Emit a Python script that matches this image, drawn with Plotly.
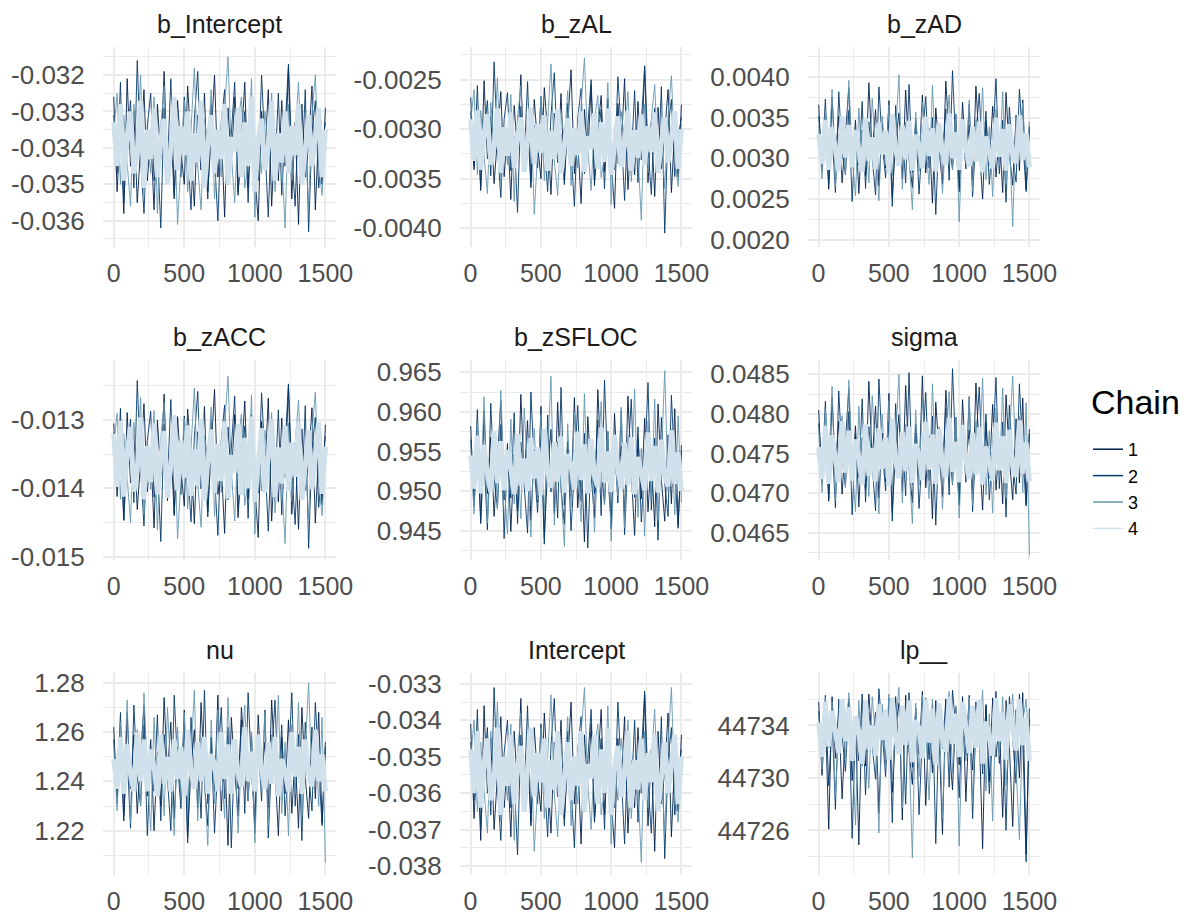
import numpy as np
import plotly.graph_objects as go

W, H = 1195, 918          # browser window
OFF = 8                   # page body margin
FW, FH = W - OFF, H - OFF  # figure reaches the window's right/bottom edge
N_ITER = 1500

params = ["b_Intercept", "b_zAL", "b_zAD", "b_zACC", "b_zSFLOC", "sigma", "nu", "Intercept", "lp__"]
chains = ["1", "2", "3", "4"]

def parse(s):
    return [float(v) for v in s.split()]

# thinned draws, one list per chain
b_Intercept = [parse(s) for s in [
"-.0326 -.0352 -.0334 -.0358 -.0321 -.0345 -.0330 -.0355 -.0340 -.0324 -.0349 -.0336 -.0357 -.0328 -.0343 -.0319 -.0347 -.0333 -.0354 -.0327 -.0341 -.0350 -.0323 -.0338 -.0356 -.0331 -.0346 -.0325 -.0352 -.0337 -.0320 -.0348 -.0335 -.0359 -.0329 -.0344 -.0326 -.0353 -.0339 -.0322 -.0351 -.0332 -.0347 -.0360 -.0330 -.0342 -.0324 -.0356 -.0336 -.0349 -.0327 -.0345 -.0318 -.0354 -.0333 -.0361 -.0328 -.0348 -.0339 -.0323 -.0357 -.0335 -.0350 -.0329",
"-.0331 -.0347 -.0322 -.0355 -.0338 -.0327 -.0351 -.0316 -.0343 -.0358 -.0334 -.0325 -.0349 -.0340 -.0362 -.0329 -.0345 -.0321 -.0353 -.0336 -.0348 -.0326 -.0341 -.0357 -.0332 -.0319 -.0346 -.0339 -.0354 -.0328 -.0343 -.0360 -.0333 -.0324 -.0350 -.0337 -.0322 -.0352 -.0340 -.0330 -.0355 -.0327 -.0344 -.0349 -.0320 -.0338 -.0359 -.0331 -.0346 -.0325 -.0353 -.0335 -.0317 -.0342 -.0356 -.0330 -.0348 -.0324 -.0363 -.0336 -.0327 -.0351 -.0340 -.0333",
"-.0336 -.0325 -.0350 -.0331 -.0344 -.0356 -.0328 -.0341 -.0320 -.0353 -.0337 -.0347 -.0326 -.0358 -.0334 -.0323 -.0349 -.0339 -.0330 -.0361 -.0343 -.0327 -.0352 -.0335 -.0318 -.0345 -.0357 -.0332 -.0340 -.0324 -.0354 -.0338 -.0348 -.0329 -.0315 -.0342 -.0355 -.0333 -.0326 -.0351 -.0344 -.0321 -.0359 -.0336 -.0347 -.0330 -.0340 -.0325 -.0352 -.0337 -.0343 -.0362 -.0328 -.0349 -.0334 -.0322 -.0346 -.0339 -.0356 -.0331 -.0320 -.0345 -.0353 -.0336",
"-.0333 -.0345 -.0328 -.0349 -.0337 -.0330 -.0347 -.0341 -.0327 -.0351 -.0335 -.0343 -.0329 -.0348 -.0338 -.0332 -.0350 -.0340 -.0326 -.0346 -.0334 -.0342 -.0330 -.0349 -.0336 -.0344 -.0327 -.0351 -.0339 -.0331 -.0347 -.0335 -.0343 -.0328 -.0350 -.0337 -.0341 -.0329 -.0348 -.0333 -.0345 -.0326 -.0352 -.0338 -.0332 -.0346 -.0340 -.0327 -.0349 -.0336 -.0344 -.0330 -.0347 -.0334 -.0342 -.0328 -.0350 -.0339 -.0331 -.0345 -.0337 -.0329 -.0348 -.0335",
]]

b_zAL = [parse(s) for s in [
"-.00268 -.00341 -.00295 -.00362 -.00251 -.00330 -.00287 -.00355 -.00309 -.00262 -.00348 -.00300 -.00371 -.00276 -.00322 -.00245 -.00338 -.00292 -.00359 -.00270 -.00316 -.00350 -.00258 -.00304 -.00366 -.00284 -.00333 -.00264 -.00352 -.00297 -.00240 -.00345 -.00311 -.00375 -.00280 -.00327 -.00255 -.00357 -.00301 -.00266 -.00343 -.00289 -.00336 -.00380 -.00274 -.00320 -.00249 -.00361 -.00306 -.00346 -.00272 -.00331 -.00236 -.00354 -.00293 -.00368 -.00278 -.00340 -.00303 -.00260 -.00364 -.00298 -.00349 -.00275",
"-.00282 -.00337 -.00256 -.00358 -.00303 -.00271 -.00347 -.00232 -.00318 -.00369 -.00290 -.00263 -.00342 -.00307 -.00384 -.00277 -.00329 -.00252 -.00353 -.00296 -.00339 -.00267 -.00313 -.00363 -.00286 -.00243 -.00334 -.00305 -.00356 -.00274 -.00321 -.00378 -.00289 -.00259 -.00345 -.00299 -.00250 -.00351 -.00310 -.00280 -.00360 -.00269 -.00325 -.00341 -.00247 -.00302 -.00372 -.00285 -.00332 -.00261 -.00354 -.00294 -.00238 -.00319 -.00366 -.00279 -.00344 -.00257 -.00405 -.00297 -.00270 -.00348 -.00308 -.00288",
"-.00292 -.00260 -.00346 -.00281 -.00326 -.00365 -.00273 -.00314 -.00248 -.00355 -.00298 -.00336 -.00265 -.00373 -.00288 -.00256 -.00343 -.00306 -.00279 -.00386 -.00323 -.00268 -.00352 -.00295 -.00234 -.00331 -.00367 -.00284 -.00310 -.00261 -.00357 -.00300 -.00339 -.00277 -.00228 -.00318 -.00362 -.00290 -.00266 -.00349 -.00327 -.00253 -.00376 -.00296 -.00335 -.00282 -.00312 -.00262 -.00353 -.00301 -.00324 -.00392 -.00275 -.00344 -.00289 -.00255 -.00333 -.00305 -.00360 -.00286 -.00246 -.00329 -.00358 -.00294",
"-.00290 -.00332 -.00281 -.00341 -.00305 -.00285 -.00336 -.00318 -.00279 -.00344 -.00298 -.00327 -.00283 -.00339 -.00309 -.00288 -.00343 -.00314 -.00278 -.00335 -.00295 -.00324 -.00286 -.00342 -.00302 -.00330 -.00280 -.00345 -.00311 -.00289 -.00337 -.00299 -.00326 -.00282 -.00343 -.00307 -.00320 -.00284 -.00340 -.00293 -.00333 -.00279 -.00346 -.00312 -.00287 -.00338 -.00316 -.00281 -.00342 -.00301 -.00329 -.00285 -.00336 -.00297 -.00323 -.00283 -.00344 -.00313 -.00288 -.00334 -.00306 -.00282 -.00340 -.00300",
]]

b_zAD = [parse(s) for s in [
".00366 .00284 .00341 .00262 .00375 .00298 .00352 .00270 .00329 .00387 .00290 .00347 .00257 .00335 .00278 .00393 .00305 .00360 .00266 .00343 .00288 .00371 .00252 .00321 .00356 .00275 .00384 .00301 .00264 .00349 .00295 .00378 .00282 .00337 .00245 .00362 .00310 .00268 .00395 .00326 .00286 .00354 .00259 .00369 .00300 .00341 .00272 .00389 .00315 .00250 .00346 .00292 .00364 .00277 .00332 .00258 .00381 .00304 .00267 .00353 .00285 .00372 .00262 .00339",
".00352 .00295 .00373 .00268 .00331 .00258 .00382 .00307 .00280 .00359 .00247 .00336 .00292 .00370 .00263 .00345 .00301 .00255 .00388 .00318 .00276 .00349 .00241 .00365 .00299 .00334 .00270 .00391 .00283 .00342 .00256 .00325 .00376 .00288 .00350 .00231 .00338 .00297 .00361 .00273 .00408 .00312 .00264 .00344 .00287 .00367 .00253 .00329 .00380 .00294 .00358 .00268 .00322 .00398 .00281 .00347 .00246 .00363 .00302 .00271 .00385 .00316 .00259 .00340",
".00340 .00275 .00358 .00299 .00385 .00265 .00327 .00349 .00281 .00396 .00303 .00254 .00362 .00289 .00337 .00270 .00374 .00310 .00248 .00352 .00292 .00366 .00279 .00333 .00403 .00262 .00345 .00301 .00237 .00357 .00284 .00369 .00316 .00268 .00390 .00296 .00343 .00257 .00328 .00378 .00286 .00355 .00222 .00336 .00294 .00372 .00260 .00348 .00308 .00387 .00274 .00339 .00253 .00361 .00291 .00382 .00269 .00330 .00216 .00351 .00298 .00368 .00283 .00345",
".00330 .00293 .00347 .00286 .00338 .00309 .00284 .00352 .00301 .00341 .00289 .00335 .00313 .00283 .00349 .00297 .00326 .00287 .00344 .00305 .00334 .00282 .00354 .00311 .00291 .00340 .00299 .00346 .00285 .00329 .00316 .00288 .00351 .00303 .00337 .00284 .00343 .00307 .00292 .00355 .00300 .00332 .00286 .00348 .00314 .00290 .00339 .00296 .00345 .00283 .00327 .00310 .00288 .00350 .00302 .00336 .00285 .00342 .00306 .00294 .00353 .00298 .00331 .00289",
]]

b_zACC = [parse(s) for s in [
"-.01305 -.01412 -.01338 -.01447 -.01289 -.01392 -.01322 -.01431 -.01360 -.01276 -.01405 -.01343 -.01458 -.01300 -.01381 -.01262 -.01418 -.01331 -.01440 -.01295 -.01372 -.01426 -.01284 -.01352 -.01452 -.01317 -.01398 -.01280 -.01435 -.01346 -.01255 -.01409 -.01364 -.01466 -.01310 -.01387 -.01292 -.01443 -.01355 -.01272 -.01415 -.01326 -.01395 -.01472 -.01302 -.01377 -.01268 -.01448 -.01349 -.01420 -.01297 -.01384 -.01250 -.01438 -.01334 -.01460 -.01313 -.01403 -.01358 -.01282 -.01451 -.01341 -.01424 -.01307",
"-.01318 -.01398 -.01283 -.01446 -.01352 -.01299 -.01421 -.01242 -.01371 -.01455 -.01330 -.01287 -.01413 -.01359 -.01478 -.01306 -.01390 -.01270 -.01437 -.01344 -.01409 -.01294 -.01366 -.01449 -.01325 -.01258 -.01401 -.01351 -.01442 -.01301 -.01383 -.01469 -.01329 -.01278 -.01417 -.01347 -.01265 -.01433 -.01362 -.01309 -.01444 -.01292 -.01388 -.01407 -.01260 -.01356 -.01463 -.01321 -.01396 -.01285 -.01439 -.01340 -.01247 -.01376 -.01453 -.01312 -.01414 -.01279 -.01488 -.01345 -.01296 -.01428 -.01367 -.01324",
"-.01337 -.01290 -.01416 -.01320 -.01385 -.01450 -.01303 -.01369 -.01267 -.01438 -.01348 -.01402 -.01286 -.01461 -.01327 -.01274 -.01411 -.01356 -.01311 -.01474 -.01380 -.01298 -.01430 -.01339 -.01253 -.01393 -.01457 -.01323 -.01363 -.01281 -.01441 -.01350 -.01406 -.01308 -.01236 -.01375 -.01448 -.01333 -.01291 -.01425 -.01389 -.01263 -.01467 -.01342 -.01404 -.01315 -.01368 -.01289 -.01436 -.01353 -.01386 -.01481 -.01304 -.01419 -.01335 -.01271 -.01397 -.01357 -.01445 -.01319 -.01259 -.01391 -.01440 -.01346",
"-.01320 -.01398 -.01301 -.01412 -.01349 -.01310 -.01405 -.01372 -.01296 -.01416 -.01338 -.01391 -.01305 -.01409 -.01356 -.01316 -.01414 -.01365 -.01293 -.01403 -.01330 -.01385 -.01308 -.01411 -.01343 -.01396 -.01298 -.01418 -.01361 -.01314 -.01407 -.01335 -.01389 -.01302 -.01415 -.01351 -.01377 -.01306 -.01410 -.01326 -.01400 -.01295 -.01420 -.01366 -.01312 -.01406 -.01358 -.01299 -.01413 -.01340 -.01393 -.01309 -.01404 -.01333 -.01383 -.01304 -.01417 -.01363 -.01315 -.01401 -.01347 -.01303 -.01408 -.01339",
]]

b_zSFLOC = [parse(s) for s in [
".9582 .9481 .9555 .9459 .9601 .9497 .9568 .9468 .9540 .9615 .9489 .9560 .9449 .9547 .9475 .9622 .9512 .9589 .9463 .9553 .9486 .9607 .9441 .9528 .9578 .9472 .9612 .9504 .9458 .9563 .9493 .9618 .9479 .9549 .9436 .9594 .9521 .9466 .9628 .9534 .9483 .9575 .9452 .9598 .9508 .9557 .9470 .9620 .9525 .9444 .9566 .9490 .9592 .9474 .9544 .9455 .9610 .9515 .9462 .9571 .9484 .9604 .9457 .9551",
".9565 .9495 .9603 .9464 .9543 .9451 .9611 .9516 .9478 .9584 .9440 .9551 .9491 .9599 .9459 .9562 .9506 .9447 .9625 .9530 .9473 .9570 .9433 .9596 .9499 .9548 .9466 .9631 .9482 .9559 .9450 .9536 .9608 .9487 .9573 .9428 .9553 .9497 .9590 .9469 .9640 .9522 .9456 .9564 .9485 .9602 .9445 .9541 .9616 .9492 .9581 .9461 .9532 .9637 .9476 .9567 .9438 .9593 .9509 .9468 .9621 .9526 .9453 .9558",
".9557 .9471 .9586 .9501 .9619 .9460 .9539 .9574 .9477 .9627 .9510 .9446 .9591 .9484 .9552 .9465 .9605 .9518 .9442 .9579 .9489 .9597 .9474 .9546 .9645 .9457 .9563 .9503 .9430 .9585 .9480 .9600 .9527 .9461 .9623 .9496 .9561 .9448 .9537 .9613 .9483 .9576 .9437 .9550 .9494 .9606 .9454 .9569 .9512 .9629 .9467 .9554 .9443 .9588 .9490 .9616 .9463 .9542 .9652 .9501 .9578 .9470 .9595 .9486",
".9545 .9503 .9570 .9497 .9558 .9521 .9499 .9576 .9510 .9563 .9501 .9552 .9529 .9496 .9572 .9507 .9541 .9500 .9567 .9516 .9555 .9495 .9579 .9524 .9504 .9562 .9512 .9569 .9498 .9547 .9533 .9502 .9575 .9514 .9559 .9497 .9566 .9519 .9505 .9580 .9511 .9550 .9499 .9571 .9527 .9503 .9561 .9508 .9568 .9496 .9543 .9522 .9501 .9574 .9513 .9557 .9498 .9565 .9518 .9506 .9577 .9509 .9549 .9500",
]]

sigma = [parse(s) for s in [
".04805 .04712 .04778 .04690 .04821 .04728 .04791 .04699 .04764 .04832 .04718 .04785 .04683 .04770 .04705 .04841 .04741 .04810 .04694 .04776 .04715 .04826 .04676 .04755 .04799 .04702 .04836 .04734 .04688 .04787 .04721 .04848 .04707 .04773 .04668 .04815 .04750 .04696 .04830 .04760 .04711 .04796 .04685 .04818 .04737 .04780 .04700 .04839 .04752 .04679 .04789 .04719 .04812 .04704 .04768 .04687 .04824 .04744 .04692 .04794 .04713 .04820 .04686 .04775",
".04788 .04724 .04816 .04693 .04767 .04682 .04829 .04745 .04708 .04803 .04673 .04774 .04720 .04819 .04689 .04784 .04735 .04678 .04844 .04756 .04703 .04792 .04665 .04813 .04727 .04771 .04697 .04852 .04711 .04782 .04681 .04760 .04827 .04716 .04797 .04660 .04777 .04726 .04808 .04698 .04857 .04748 .04687 .04786 .04714 .04822 .04677 .04765 .04834 .04722 .04800 .04692 .04758 .04846 .04706 .04790 .04670 .04811 .04738 .04699 .04838 .04751 .04684 .04781",
".04781 .04701 .04806 .04731 .04835 .04691 .04763 .04798 .04707 .04843 .04739 .04677 .04810 .04714 .04776 .04696 .04823 .04746 .04674 .04800 .04719 .04817 .04704 .04770 .04850 .04688 .04787 .04733 .04662 .04805 .04710 .04819 .04753 .04693 .04838 .04725 .04784 .04680 .04761 .04828 .04712 .04796 .04669 .04774 .04723 .04821 .04685 .04791 .04740 .04845 .04698 .04779 .04675 .04807 .04720 .04833 .04694 .04766 .04848 .04729 .04797 .04701 .04814 .04622",
".04758 .04718 .04785 .04712 .04773 .04737 .04714 .04791 .04726 .04779 .04716 .04768 .04745 .04711 .04787 .04722 .04757 .04715 .04782 .04731 .04770 .04710 .04794 .04740 .04719 .04777 .04728 .04784 .04713 .04762 .04749 .04717 .04790 .04730 .04774 .04712 .04781 .04735 .04720 .04795 .04727 .04765 .04714 .04786 .04743 .04718 .04776 .04724 .04783 .04711 .04759 .04738 .04716 .04789 .04729 .04772 .04713 .04780 .04734 .04721 .04792 .04725 .04764 .04715",
]]

nu = [parse(s) for s in [
"1.262 1.231 1.255 1.224 1.268 1.237 1.259 1.227 1.250 1.271 1.234 1.257 1.220 1.252 1.230 1.274 1.243 1.264 1.225 1.254 1.233 1.269 1.217 1.246 1.261 1.229 1.272 1.240 1.222 1.258 1.236 1.275 1.228 1.253 1.214 1.266 1.244 1.226 1.270 1.249 1.232 1.260 1.219 1.267 1.241 1.256 1.229 1.273 1.245 1.218 1.258 1.235 1.265 1.227 1.251 1.221 1.270 1.242 1.225 1.262 1.233 1.268 1.223 1.254",
"1.257 1.235 1.268 1.226 1.251 1.221 1.271 1.242 1.230 1.263 1.218 1.253 1.236 1.267 1.224 1.259 1.241 1.220 1.275 1.247 1.229 1.261 1.215 1.266 1.238 1.252 1.225 1.277 1.231 1.258 1.219 1.248 1.270 1.233 1.262 1.213 1.255 1.237 1.265 1.227 1.276 1.244 1.223 1.257 1.232 1.269 1.217 1.250 1.273 1.236 1.263 1.226 1.246 1.276 1.230 1.259 1.216 1.264 1.243 1.228 1.272 1.245 1.222 1.256",
"1.255 1.228 1.264 1.239 1.273 1.223 1.249 1.261 1.230 1.276 1.243 1.220 1.266 1.234 1.254 1.226 1.270 1.245 1.218 1.262 1.233 1.268 1.229 1.252 1.277 1.224 1.258 1.240 1.214 1.265 1.231 1.269 1.247 1.225 1.274 1.238 1.257 1.219 1.250 1.271 1.232 1.260 1.215 1.253 1.236 1.268 1.222 1.259 1.242 1.275 1.227 1.256 1.218 1.263 1.235 1.272 1.226 1.251 1.280 1.239 1.261 1.230 1.266 1.207",
"1.249 1.237 1.258 1.235 1.255 1.243 1.236 1.260 1.240 1.257 1.236 1.253 1.246 1.234 1.259 1.239 1.250 1.236 1.257 1.241 1.254 1.234 1.261 1.244 1.237 1.256 1.240 1.258 1.235 1.251 1.247 1.236 1.260 1.241 1.255 1.235 1.257 1.243 1.238 1.262 1.240 1.252 1.236 1.259 1.245 1.237 1.256 1.239 1.258 1.234 1.249 1.244 1.236 1.260 1.242 1.254 1.235 1.257 1.243 1.238 1.261 1.240 1.251 1.236",
]]

Intercept = [parse(s) for s in [
"-.0341 -.0367 -.0349 -.0373 -.0336 -.0360 -.0345 -.0370 -.0355 -.0339 -.0364 -.0351 -.0372 -.0343 -.0358 -.0334 -.0362 -.0348 -.0369 -.0342 -.0356 -.0365 -.0338 -.0353 -.0371 -.0346 -.0361 -.0340 -.0367 -.0352 -.0335 -.0363 -.0350 -.0374 -.0344 -.0359 -.0341 -.0368 -.0354 -.0337 -.0366 -.0347 -.0362 -.0375 -.0345 -.0357 -.0339 -.0371 -.0351 -.0364 -.0342 -.0360 -.0333 -.0369 -.0348 -.0376 -.0343 -.0363 -.0354 -.0338 -.0372 -.0350 -.0365 -.0344",
"-.0346 -.0362 -.0337 -.0370 -.0353 -.0342 -.0366 -.0331 -.0358 -.0373 -.0349 -.0340 -.0364 -.0355 -.0377 -.0344 -.0360 -.0336 -.0368 -.0351 -.0363 -.0341 -.0356 -.0372 -.0347 -.0334 -.0361 -.0354 -.0369 -.0343 -.0358 -.0375 -.0348 -.0339 -.0365 -.0352 -.0337 -.0367 -.0355 -.0345 -.0370 -.0342 -.0359 -.0364 -.0335 -.0353 -.0374 -.0346 -.0361 -.0340 -.0368 -.0350 -.0332 -.0357 -.0371 -.0345 -.0363 -.0339 -.0378 -.0351 -.0342 -.0366 -.0355 -.0348",
"-.0351 -.0340 -.0365 -.0346 -.0359 -.0371 -.0343 -.0356 -.0335 -.0368 -.0352 -.0362 -.0341 -.0373 -.0349 -.0338 -.0364 -.0354 -.0345 -.0376 -.0358 -.0342 -.0367 -.0350 -.0333 -.0360 -.0372 -.0347 -.0355 -.0339 -.0369 -.0353 -.0363 -.0344 -.0331 -.0357 -.0370 -.0348 -.0341 -.0366 -.0359 -.0336 -.0374 -.0351 -.0362 -.0345 -.0355 -.0340 -.0367 -.0352 -.0358 -.0379 -.0343 -.0364 -.0349 -.0337 -.0361 -.0354 -.0371 -.0346 -.0331 -.0360 -.0368 -.0351",
"-.0348 -.0360 -.0343 -.0364 -.0352 -.0345 -.0362 -.0356 -.0342 -.0366 -.0350 -.0358 -.0344 -.0363 -.0353 -.0347 -.0365 -.0355 -.0342 -.0361 -.0349 -.0357 -.0345 -.0364 -.0351 -.0359 -.0343 -.0366 -.0354 -.0346 -.0362 -.0350 -.0358 -.0343 -.0365 -.0352 -.0356 -.0344 -.0363 -.0348 -.0360 -.0342 -.0366 -.0353 -.0347 -.0361 -.0355 -.0343 -.0364 -.0351 -.0359 -.0345 -.0362 -.0349 -.0357 -.0344 -.0365 -.0354 -.0346 -.0360 -.0352 -.0344 -.0363 -.0350",
]]

lp__ = [parse(s) for s in [
"44735.8 44730.2 44734.9 44726.1 44736.2 44731.5 44735.1 44728.4 44733.7 44736.0 44729.8 44734.4 44724.9 44735.5 44730.9 44736.4 44732.6 44735.0 44727.3 44734.8 44731.2 44736.1 44728.9 44733.9 44735.7 44726.8 44736.3 44732.1 44729.5 44735.3 44731.8 44736.6 44727.9 44734.6 44730.4 44735.9 44733.2 44725.7 44736.0 44732.9 44729.1 44735.4 44731.0 44736.2 44728.2 44734.7 44730.6 44735.8 44733.5 44724.6 44735.6 44729.7 44736.1 44731.6 44734.3 44727.0 44735.9 44732.4 44726.3 44735.2 44730.0 44736.5 44724.2 44734.5",
"44735.1 44731.9 44736.3 44729.4 44734.6 44727.6 44736.0 44733.0 44730.5 44735.7 44725.4 44734.1 44731.3 44736.4 44728.7 44735.0 44732.7 44729.9 44736.8 44733.6 44730.1 44735.4 44726.6 44736.2 44732.0 44734.8 44728.0 44736.5 44730.8 44735.3 44727.2 44733.4 44736.1 44731.4 44735.6 44725.0 44734.9 44732.2 44736.0 44729.3 44736.7 44733.8 44728.5 44735.2 44731.7 44736.3 44726.9 44734.2 44735.9 44730.3 44735.5 44728.8 44733.3 44736.6 44731.1 44735.0 44726.0 44736.2 44732.8 44729.6 44736.4 44733.1 44723.6 44735.3",
"44734.7 44730.7 44736.1 44732.3 44735.8 44728.6 44733.6 44735.4 44731.5 44736.5 44732.8 44726.4 44735.9 44730.9 44734.4 44729.2 44736.2 44733.2 44725.8 44735.6 44731.0 44736.4 44729.7 44734.2 44736.9 44727.7 44735.1 44732.5 44723.9 44735.7 44730.1 44736.3 44733.7 44728.3 44736.0 44731.8 44735.3 44727.0 44733.9 44736.6 44730.4 44735.5 44724.8 44734.0 44731.3 44736.1 44728.1 44735.2 44733.0 44736.7 44729.0 44734.9 44726.7 44735.8 44731.7 44736.2 44729.4 44733.5 44736.4 44730.6 44725.3 44734.3 44736.0 44731.9",
"44734.2 44731.6 44735.8 44732.4 44735.1 44733.3 44731.9 44736.0 44732.8 44735.4 44731.3 44734.7 44733.6 44731.1 44735.9 44732.2 44734.0 44731.7 44735.6 44732.9 44735.2 44731.4 44736.1 44733.1 44731.8 44735.5 44732.5 44735.9 44731.2 44734.4 44733.8 44731.5 44736.0 44732.7 44735.3 44731.0 44735.7 44733.0 44732.0 44736.2 44732.6 44734.9 44731.6 44735.8 44733.4 44731.9 44735.5 44732.3 44735.9 44731.1 44734.3 44733.2 44731.7 44736.1 44732.8 44735.0 44731.4 44735.6 44733.5 44732.1 44736.0 44732.5 44734.6 44731.3",
]]

draws = {"b_Intercept": b_Intercept, "b_zAL": b_zAL, "b_zAD": b_zAD, "b_zACC": b_zACC,
         "b_zSFLOC": b_zSFLOC, "sigma": sigma, "nu": nu, "Intercept": Intercept, "lp__": lp__}

# y tick labels per panel
y_ticks = {
    "b_Intercept": ["-0.036", "-0.035", "-0.034", "-0.033", "-0.032"],
    "b_zAL": ["-0.0040", "-0.0035", "-0.0030", "-0.0025"],
    "b_zAD": ["0.0020", "0.0025", "0.0030", "0.0035", "0.0040"],
    "b_zACC": ["-0.015", "-0.014", "-0.013"],
    "b_zSFLOC": ["0.945", "0.950", "0.955", "0.960", "0.965"],
    "sigma": ["0.0465", "0.0470", "0.0475", "0.0480", "0.0485"],
    "nu": ["1.22", "1.24", "1.26", "1.28"],
    "Intercept": ["-0.038", "-0.037", "-0.036", "-0.035", "-0.034", "-0.033"],
    "lp__": ["44726", "44730", "44734"],
}
x_ticks = ["0", "500", "1000", "1500"]

# ---- styling / layout ----
y_ranges = {
    "b_Intercept": [-0.03672, -0.03123],
    "b_zAL": [-0.00419, -0.00217],
    "b_zAD": [0.00191, 0.00437],
    "b_zACC": [-0.01505, -0.01212],
    "b_zSFLOC": [0.9413, 0.96655],
    "sigma": [0.04616, 0.04868],
    "nu": [1.202, 1.284],
    "Intercept": [-0.03825, -0.0327],
    "lp__": [44722.6, 44738.0],
}
FONT = "Liberation Sans, Arial, sans-serif"
GRID = "#ebebeb"
chain_colors = ["#011f4b", "#03396c", "#6497b1", "#d1e1ec"]
chain_widths = [0.9, 0.9, 0.9, 5.0]
# pixel boxes in window coordinates
cols_px = [(103, 336), (460, 692), (808, 1040)]
rows_px = [(47, 247), (360, 560), (673, 875)]


def px_x(px):
    return (px - OFF) / FW


def px_y(py):
    return 1 - (py - OFF) / FH


fig = go.Figure()
layout = {}
annotations = []

for k, name in enumerate(params):
    r, c = divmod(k, 3)
    sfx = "" if k == 0 else str(k + 1)
    chains_vals = draws[name]
    for ch in range(4):
        vals = chains_vals[ch]
        it = np.linspace(1, N_ITER, len(vals))
        fig.add_trace(go.Scatter(
            x=it, y=vals, mode="lines",
            line=dict(color=chain_colors[ch], width=chain_widths[ch]),
            name=chains[ch], legendgroup=chains[ch], showlegend=False,
            xaxis="x" + sfx, yaxis="y" + sfx, hoverinfo="skip"))

    tv = [float(t) for t in y_ticks[name]]
    step = tv[1] - tv[0]
    lo, hi = y_ranges[name]
    minor = []
    m = tv[0] - step / 2
    while m <= hi:
        if m >= lo:
            minor.append(m)
        m += step
    x0, x1 = cols_px[c]
    y0, y1 = rows_px[r]
    layout["xaxis" + sfx] = dict(
        domain=[px_x(x0), px_x(x1)], anchor="y" + sfx, range=[-75, 1575], automargin=False,
        tickmode="array", tickvals=[0, 500, 1000, 1500], ticktext=x_ticks,
        showgrid=True, gridcolor=GRID, gridwidth=2,
        minor=dict(tickmode="array", tickvals=[250, 750, 1250], showgrid=True, gridcolor=GRID, gridwidth=1),
        zeroline=False, showline=False, ticks="outside", ticklen=4, tickcolor="rgba(0,0,0,0)",
        tickfont=dict(family=FONT, size=25, color="#4d4d4d"))
    layout["yaxis" + sfx] = dict(
        domain=[px_y(y1), px_y(y0)], anchor="x" + sfx, range=[lo, hi], automargin=False,
        tickmode="array", tickvals=tv, ticktext=y_ticks[name],
        showgrid=True, gridcolor=GRID, gridwidth=2,
        minor=dict(tickmode="array", tickvals=minor, showgrid=True, gridcolor=GRID, gridwidth=1),
        zeroline=False, showline=False, ticks="outside", ticklen=12, tickcolor="rgba(0,0,0,0)",
        tickfont=dict(family=FONT, size=26, color="#4d4d4d"))
    annotations.append(dict(
        text=name, xref="paper", yref="paper", x=px_x((x0 + x1) / 2), y=px_y(y0 - 23),
        xanchor="center", yanchor="middle", showarrow=False,
        font=dict(family=FONT, size=25, color="#1a1a1a")))

# legend keys (thin lines, as in the reference legend)
for ch in range(4):
    fig.add_trace(go.Scatter(
        x=[None], y=[None], mode="lines", name=chains[ch], legendgroup=chains[ch],
        line=dict(color=chain_colors[ch], width=1.5), showlegend=True, hoverinfo="skip"))

annotations.append(dict(
    text="Chain", xref="paper", yref="paper", x=px_x(1089), y=px_y(402),
    xanchor="left", yanchor="middle", showarrow=False,
    font=dict(family=FONT, size=34, color="black")))

fig.update_layout(
    width=FW, height=FH, margin=dict(l=0, r=0, t=0, b=0, autoexpand=False),
    paper_bgcolor="white", plot_bgcolor="white",
    font=dict(family=FONT),
    annotations=annotations,
    showlegend=True,
    legend=dict(font=dict(family=FONT, size=18, color="black"),
                x=px_x(1088), y=px_y(431), xanchor="left", yanchor="top",
                itemwidth=30, tracegroupgap=0, bgcolor="rgba(0,0,0,0)"),
    **layout)

fig.write_html("out.html")
